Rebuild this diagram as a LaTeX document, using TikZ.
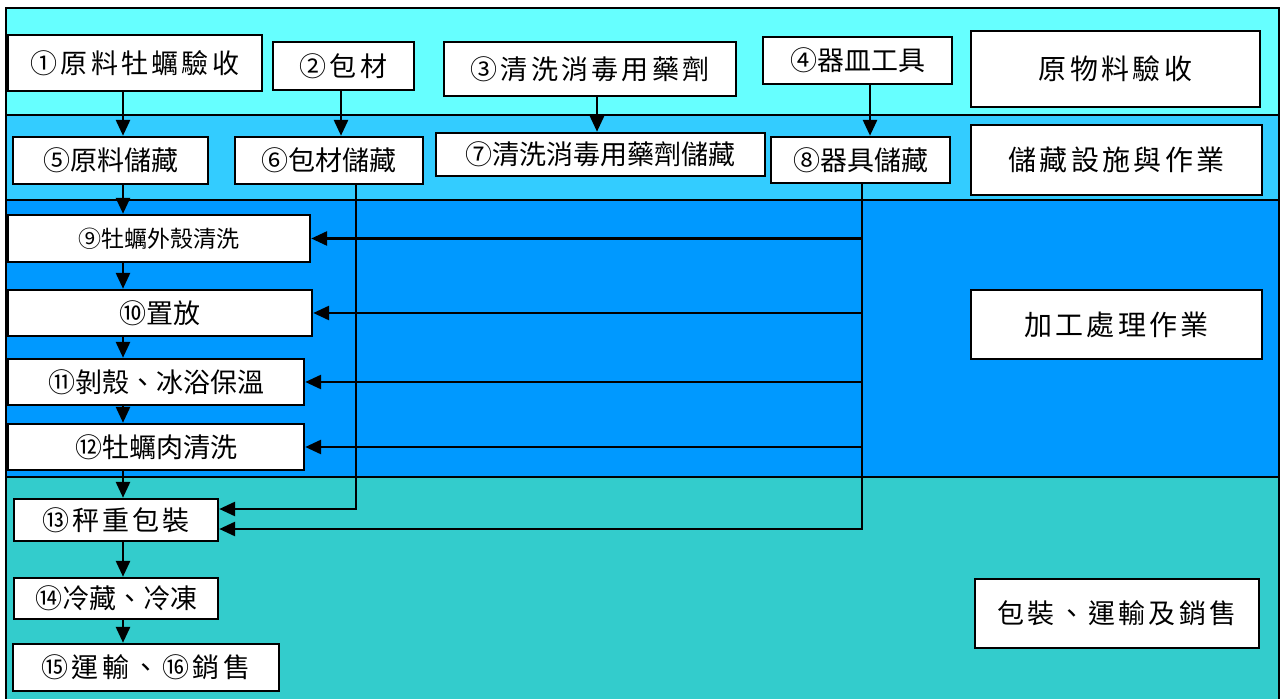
\documentclass[tikz,border=0pt]{standalone}
\usepackage{fontspec}
\usepackage{xcolor}
\usetikzlibrary{arrows.meta, positioning, calc}
\newfontfamily\cjk{Noto Sans CJK TC}
\newfontfamily\cjkwide[LetterSpace=12]{Noto Sans CJK TC}
\definecolor{bandone}{HTML}{66FFFF}
\definecolor{bandtwo}{HTML}{33CCFF}
\definecolor{bandthree}{HTML}{0099FF}
\definecolor{bandfour}{HTML}{33CCCC}

\begin{document}
\begin{tikzpicture}[
    x=0.5pt, y=-0.5pt,
    band/.style={draw, line width=1pt},
    stepbox/.style={draw, line width=1.2pt, fill=white, inner sep=0pt, font=\cjk\fontsize{13.5}{15}\selectfont},
    widebox/.style={stepbox, font=\cjkwide\fontsize{13.5}{15}\selectfont},
    stagebox/.style={stepbox, font=\cjkwide\fontsize{14}{16}\selectfont},
    arrow/.style={-{Triangle[length=8pt, width=7pt]}, line width=1.4pt}
]
    \useasboundingbox (0,0) rectangle (1283,699);
    % bands
    \fill[white] (0,0) rectangle (1283,699);
    \draw[band, fill=bandone] (6,8) rectangle (1279,115);
    \draw[band, fill=bandtwo] (6,115) rectangle (1279,200);
    \draw[band, fill=bandthree] (6,200) rectangle (1279,477);
    \draw[band, fill=bandfour] (6,477) rectangle (1279,705);

    % stage labels
    \node[stagebox, minimum width=144.5pt, minimum height=38pt] (l1) at (1115.5,69) {原物料驗收};
    \node[stagebox, minimum width=145.5pt, minimum height=35pt] (l2) at (1116.5,160) {儲藏設施與作業};
    \node[stagebox, minimum width=145.5pt, minimum height=34.5pt] (l3) at (1116.5,324.5) {加工處理作業};
    \node[stagebox, minimum width=142pt, minimum height=34.5pt, font=\cjkwide\fontsize{13.5}{16}\selectfont] (l4) at (1117,613.5) {包裝、運輸及銷售};

    % receiving
    \node[widebox, minimum width=127pt, minimum height=28pt] (s1) at (135,63) {①原料牡蠣驗收};
    \node[widebox, minimum width=70.5pt, minimum height=24pt] (s2) at (343.5,66) {②包材};
    \node[widebox, minimum width=146pt, minimum height=27pt] (s3) at (590,69) {③清洗消毒用藥劑};
    \node[stepbox, minimum width=94.5pt, minimum height=23.5pt] (s4) at (857.5,60.5) {④器皿工具};

    % storage
    \node[stepbox, minimum width=97.5pt, minimum height=23.5pt] (s5) at (110.5,160.5) {⑤原料儲藏};
    \node[stepbox, minimum width=94pt, minimum height=23.5pt] (s6) at (329,160.5) {⑥包材儲藏};
    \node[stepbox, minimum width=164.5pt, minimum height=21.5pt] (s7) at (600.5,154.5) {⑦清洗消毒用藥劑儲藏};
    \node[stepbox, minimum width=89.5pt, minimum height=23pt] (s8) at (860.5,160) {⑧器具儲藏};

    % processing
    \node[stepbox, minimum width=151pt, minimum height=23.5pt, font=\cjk\fontsize{11.5}{14}\selectfont] (s9) at (159,238.5) {⑨牡蠣外殼清洗};
    \node[stepbox, minimum width=152pt, minimum height=23pt] (s10) at (160,313) {⑩置放};
    \node[stepbox, minimum width=148pt, minimum height=23pt] (s11) at (156,382) {⑪剝殼、冰浴保溫};
    \node[stepbox, minimum width=148pt, minimum height=23pt] (s12) at (156,447) {⑫牡蠣肉清洗};

    % packing
    \node[widebox, minimum width=102pt, minimum height=21pt] (s13) at (116,520) {⑬秤重包裝};
    \node[stepbox, minimum width=102pt, minimum height=20.5pt] (s14) at (116,598.5) {⑭冷藏、冷凍};
    \node[widebox, minimum width=133pt, minimum height=23.5pt] (s15) at (146,667.5) {⑮運輸、⑯銷售};

    \coordinate (c1) at (123,0);
    \coordinate (b6) at (356,0);
    \coordinate (b8) at (862,0);

    \draw[arrow] (s1.south -| c1) -- (s5.north -| c1);
    \draw[arrow] (s2.south -| 341,0) -- (s6.north -| 341,0);
    \draw[arrow] (s3.south -| 597,0) -- (s7.north -| 597,0);
    \draw[arrow] (s4.south -| 870,0) -- (s8.north -| 870,0);
    \draw[arrow] (s5.south -| c1) -- (s9.north -| c1);
    \draw[arrow] (s9.south -| c1) -- (s10.north -| c1);
    \draw[arrow] (s10.south -| c1) -- (s11.north -| c1);
    \draw[arrow] (s11.south -| c1) -- (s12.north -| c1);
    \draw[arrow] (s12.south -| c1) -- (s13.north -| c1);
    \draw[arrow] (s13.south -| c1) -- (s14.north -| c1);
    \draw[arrow] (s14.south -| c1) -- (s15.north -| c1);

    \draw[arrow] (s6.south -| b6) |- ([yshift=5.5pt]s13.east);
    \draw[arrow] (s8.south -| b8) |- ([yshift=-4.5pt]s13.east);
    \foreach \n in {9,10,11,12}
        \draw[arrow] (s\n.east -| b8) -- (s\n.east);
\end{tikzpicture}
\end{document}
